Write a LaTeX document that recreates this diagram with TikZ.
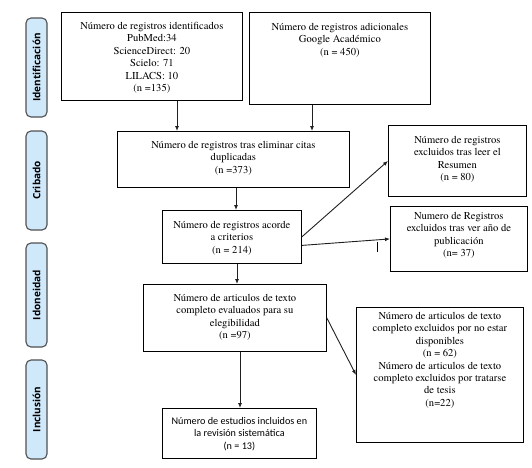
\documentclass[tikz,border=0pt]{standalone}
\usepackage{fontspec}
\newfontfamily\seriff{texgyretermes-regular.otf}
\newfontfamily\sansf{Carlito}
\newfontfamily\sidef{Open Sans}
\usetikzlibrary{arrows.meta,calc}
\definecolor{sidefill}{HTML}{CFE8FA}
\definecolor{sideline}{HTML}{505050}
\definecolor{arrcol}{HTML}{202020}
\begin{document}
\begin{tikzpicture}[x=1pt,y=-1pt,
  box/.style={draw=black,line width=0.8pt,anchor=north west,inner sep=0pt},
  txt/.style={anchor=north,align=center,inner sep=0pt,font=\seriff\fontsize{10.6}{12.4}\selectfont},
  stxt/.style={anchor=north,align=center,inner sep=0pt,font=\sansf\fontsize{10.2}{12.6}\selectfont},
  side/.style={draw=sideline,fill=sidefill,line width=1.1pt,rounded corners=5pt,rotate=90,
    minimum height=21pt,inner sep=0pt,font=\sidef\bfseries\fontsize{10}{12}\selectfont},
  arr/.style={draw=arrcol,line width=0.9pt,-{Latex[length=5pt,width=4pt]}}]
\useasboundingbox (0,0) rectangle (532,467);
% side labels
\node[side,minimum width=99pt] (S1) at (36.5,67.5) {Identificación};
\node[side,minimum width=99pt] (S2) at (36.5,180.5) {Cribado};
\node[side,minimum width=104pt] (S3) at (36.5,295) {Idoneidad};
\node[side,minimum width=99pt] (S4) at (36.5,409.5) {Inclusión};
% boxes
\node[box,minimum width=181pt,minimum height=88pt] (A) at (61,12) {};
\node[txt] (At) at ($(A.north)+(0,10)$) {Número de registros identificados\\PubMed:34\\ScienceDirect: 20\\Scielo: 71\\LILACS: 10\\(n =135)};
\node[box,minimum width=181pt,minimum height=92pt] (B) at (249,12) {};
\node[txt] (Bt) at ($(B.north)+(0,11)$) {Número de registros adicionales\\Google Académico\\(n = 450)};
\node[box,minimum width=232pt,minimum height=56pt] (C) at (117,131) {};
\node[txt] (Ct) at ($(C.north)+(0,10)$) {Número de registros tras eliminar citas\\duplicadas\\(n =373)};
\node[box,minimum width=139pt,minimum height=53pt] (D) at (162,210) {};
\node[txt] (Dt) at ($(D.north)+(0,11)$) {Número de registros acorde\\a criterios\\(n = 214)};
\node[box,minimum width=138pt,minimum height=71pt] (E) at (388,125) {};
\node[txt] (Et) at ($(E.north)+(0,11)$) {Número de registros\\excluidos tras leer el\\Resumen\\(n = 80)};
\node[box,minimum width=137pt,minimum height=65pt] (F) at (390,206) {};
\node[txt] (Ft) at ($(F.north)+(0,6)$) {Numero de Registros\\excluidos tras ver año de\\publicación\\(n= 37)};
\node[box,minimum width=183pt,minimum height=67pt] (G) at (143,284) {};
\node[txt] (Gt) at ($(G.north)+(0,10)$) {Número de articulos de texto\\completo evaluados para su\\elegibilidad\\(n =97)};
\node[box,minimum width=167pt,minimum height=135pt] (H) at (356,307) {};
\node[txt] (Ht) at ($(H.north)+(0,5)$) {Número de articulos de texto\\completo excluidos por no estar\\disponibles\\(n = 62)\\Número de articulos de texto\\completo excluidos por tratarse\\de tesis\\(n=22)};
\node[box,minimum width=154pt,minimum height=50pt] (I) at (162,408) {};
\node[stxt] (It) at ($(I.north)+(0,9)$) {Número de estudios incluidos en\\la revisión sistemática\\(n = 13)};
% connectors
\draw[arr] (A.south -| 177,0) -- (C.north -| 177,0);
\draw[arr] (B.south -| 312,0) -- (C.north -| 312,0);
\draw[arr] (C.south -| 236,0) -- (D.north -| 236,0);
\draw[arr] (D.east) -- (E.west);
\draw[arr] ($(D.east)+(0,8.5)$) -- (F.west);
\draw[arr] (D.south -| 237,0) -- (G.north -| 237,0);
\draw[arr] (G.east) -- (H.west);
\draw[arr] (G.south -| 240,0) -- (I.north -| 240,0);
\coordinate (T1) at (377,242);
\coordinate (T2) at (377,252);
\draw[line width=0.8pt] (T1) -- (T2);
\end{tikzpicture}
\end{document}
